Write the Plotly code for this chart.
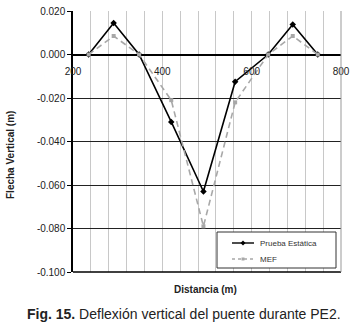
import plotly.graph_objects as go

# ---- data ----
distancia = [235, 291, 348, 420, 492, 563, 637, 692, 748]
prueba_estatica = [0.000, 0.0145, 0.000, -0.031, -0.063, -0.0125, 0.000, 0.0138, 0.000]
mef = [0.000, 0.0085, 0.000, -0.021, -0.079, -0.022, 0.000, 0.0085, 0.000]
series_names = ["Prueba Estática", "MEF"]

y_ticks = [0.02, 0.0, -0.02, -0.04, -0.06, -0.08, -0.10]
y_labels = ["0.020", "0.000", "-0.020", "-0.040", "-0.060", "-0.080", "-0.100"]
x_ticks = [200, 400, 600, 800]
x_labels = ["200", "400", "600", "800"]

FONT = "Liberation Sans, Arial, sans-serif"
BLACK = "black"
GRAY = "#a8a8a8"

fig = go.Figure()
fig.add_trace(go.Scatter(
    x=distancia, y=prueba_estatica, name=series_names[0], mode="lines+markers",
    line=dict(color=BLACK, width=1.6),
    marker=dict(symbol="diamond", size=5, color=BLACK),
))
fig.add_trace(go.Scatter(
    x=distancia, y=mef, name=series_names[1], mode="lines+markers",
    line=dict(color=GRAY, width=1.6, dash="6px,4px"),
    marker=dict(symbol="square", size=4, color=GRAY),
))

# plot area geometry (px) for manual legend placement
W, H = 362, 326
L, R, T, B = 73, 21, 11, 54
pw, ph = W - L - R, H - T - B


def px(x):
    return (x - L) / pw


def py(y):
    return (H - B - y) / ph


# manual legend
lg_x0, lg_x1, lg_y0, lg_y1 = 217, 336, 232, 268
rows = [243, 259]
shapes = [
    dict(type="line", xref="paper", yref="paper", x0=0, x1=1, y0=0, y1=0,
         line=dict(color="black", width=1.5)),
    dict(type="line", xref="paper", yref="paper", x0=1, x1=1, y0=0, y1=1,
         line=dict(color="#999", width=1)),
    dict(type="rect", xref="paper", yref="paper",
         x0=px(lg_x0), x1=px(lg_x1), y0=py(lg_y1), y1=py(lg_y0),
         line=dict(color="#333", width=1), fillcolor="white", layer="above"),
    dict(type="line", xref="paper", yref="paper", x0=px(232), x1=px(254),
         y0=py(rows[0]), y1=py(rows[0]), line=dict(color=BLACK, width=1.4), layer="above"),
    dict(type="line", xref="paper", yref="paper", x0=px(232), x1=px(254),
         y0=py(rows[1]), y1=py(rows[1]), line=dict(color=GRAY, width=1.4, dash="3px,3px"),
         layer="above"),
    dict(type="path", xref="paper", yref="paper", layer="above",
         path=f"M {px(243)},{py(rows[0]-2.5)} L {px(245.5)},{py(rows[0])} L {px(243)},{py(rows[0]+2.5)} L {px(240.5)},{py(rows[0])} Z",
         fillcolor=BLACK, line=dict(color=BLACK, width=0)),
    dict(type="rect", xref="paper", yref="paper", layer="above",
         x0=px(241.5), x1=px(244.5), y0=py(rows[1]+1.5), y1=py(rows[1]-1.5),
         fillcolor=GRAY, line=dict(color=GRAY, width=0)),
]

fig.update_layout(
    width=W, height=H,
    margin=dict(l=L, r=R, t=T, b=B, autoexpand=False),
    paper_bgcolor="white", plot_bgcolor="white",
    font=dict(family=FONT, size=10, color="#222"),
    showlegend=False,
    xaxis=dict(
        range=[200, 800], tickvals=x_ticks, ticktext=x_labels,
        anchor="free", position=0.1/0.12, automargin=False,
        showgrid=True, gridcolor="#c8c8c8", gridwidth=1,
        minor=dict(dtick=40, tick0=200, showgrid=True, gridcolor="#c8c8c8", gridwidth=1),
        ticks="outside", ticklen=7, tickcolor="rgba(0,0,0,0)",
        showline=False, zeroline=False,
        tickfont=dict(size=10, color="#222"),
    ),
    yaxis=dict(
        range=[-0.1, 0.02], tickvals=y_ticks, ticktext=y_labels, automargin=False,
        showgrid=True, gridcolor="#222", gridwidth=1.2,
        showline=True, linecolor="black", linewidth=1.5,
        ticks="outside", ticklen=4, tickcolor="black",
        zeroline=True, zerolinecolor="black", zerolinewidth=1.5,
        tickfont=dict(size=10, color="#222"),
    ),
    shapes=shapes,
    annotations=[
        dict(text=series_names[0], xref="paper", yref="paper",
             x=px(258), y=py(rows[0]), showarrow=False, xanchor="left", yanchor="middle",
             font=dict(size=8, color="#333")),
        dict(text=series_names[1], xref="paper", yref="paper",
             x=px(258), y=py(rows[1]), showarrow=False, xanchor="left", yanchor="middle",
             font=dict(size=8, color="#333")),
        dict(text="<b>Distancia (m)</b>", xref="paper", yref="paper",
             x=px(205), y=py(289), showarrow=False, xanchor="center", yanchor="middle",
             font=dict(size=10, color="#222")),
        dict(text="<b>Flecha Vertical (m)</b>", xref="paper", yref="paper",
             x=px(10), y=py(155), showarrow=False, textangle=-90,
             xanchor="center", yanchor="middle",
             font=dict(size=10, color="#222")),
        dict(text="<b>Fig. 15.</b> Deflexión vertical del puente durante PE2.",
             xref="paper", yref="paper", x=px(25), y=py(314),
             showarrow=False, xanchor="left", yanchor="middle",
             font=dict(size=14, color="#222")),
    ],
)

fig.write_html(
    "out.html",
    config={"displayModeBar": False},
    post_script="document.body.style.margin='0';document.body.style.overflow='hidden';",
)
